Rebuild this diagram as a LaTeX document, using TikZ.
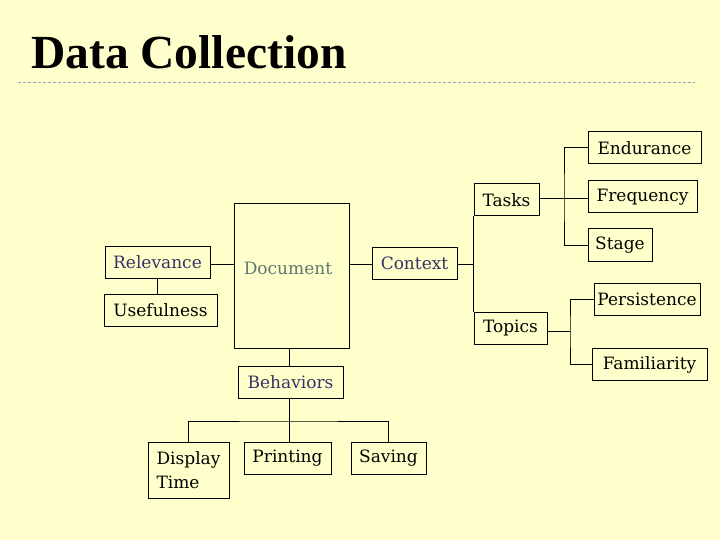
\documentclass[tikz,border=0pt]{standalone}
\usepackage{fontspec}
\setmainfont{DejaVu Serif}
\newfontfamily\titlefont{Liberation Serif}
\usepackage{tikz}
\usetikzlibrary{positioning,calc}
\usepackage{xcolor}
\definecolor{dcPaper}{HTML}{FFFFCC}
\definecolor{dcNavy}{HTML}{333366}
\definecolor{dcDoc}{HTML}{5F7777}
\definecolor{dcRule}{HTML}{98A2C4}
\tikzset{
    itembox/.style={draw, line width=1pt, minimum height=32pt, inner sep=3pt, font=\fontsize{17}{24}\selectfont},
    keybox/.style={itembox, text=dcNavy},
    link/.style={line width=1pt}
}

\begin{document}
\begin{tikzpicture}[x=1pt, y=-1pt]

    % Background
    \fill[dcPaper] (0,0) rectangle (720,540);
    \useasboundingbox (0,0) rectangle (720,540);

    % Title
    \node[anchor=base west, inner sep=0pt, font=\titlefont\bfseries\fontsize{47.5}{52}\selectfont] (title) at (31,69) {Data Collection};
    \coordinate (ruleL) at (18,83);
    \coordinate (ruleR) at (695,83);
    \draw[dcRule, line width=1pt, dash pattern=on 3pt off 2pt] (ruleL) -- (ruleR);

    % Nodes
    \node[draw, line width=1pt, minimum width=115pt, minimum height=144pt] (doc) at (291.5,276) {};
    \node[font=\fontsize{17}{24}\selectfont, text=dcDoc] (doclabel) at (288,268) {Document};
    \node[keybox, minimum width=105pt] (rel) at (157.5,262.5) {Relevance};
    \node[itembox, minimum width=113pt] (use) at (160.5,310) {Usefulness};
    \node[keybox, minimum width=85pt] (ctx) at (414.5,263) {Context};
    \node[keybox, minimum width=105pt] (beh) at (290.5,382) {Behaviors};

    \node[itembox, minimum width=65pt] (tasks) at (506.5,200) {Tasks};
    \node[itembox, minimum width=73pt] (topics) at (510.5,328) {Topics};
    \node[itembox, minimum width=113pt] (endur) at (644.5,148) {Endurance};
    \node[itembox, minimum width=109pt] (freq) at (642.5,197) {Frequency};
    \node[itembox, minimum width=64pt] (stage) at (620,245) {Stage};
    \node[itembox, minimum width=106pt] (pers) at (647,299) {Persistence};
    \node[itembox, minimum width=115pt] (fam) at (649.5,364.5) {Familiarity};

    \node[itembox, minimum width=81pt, minimum height=56pt, align=left] (disp) at (188.5,470) {Display\\Time};
    \node[itembox, minimum width=87pt] (print) at (287.5,458) {Printing};
    \node[itembox, minimum width=75pt] (save) at (388.5,458) {Saving};

    % Bus points
    \coordinate (tbus) at (564,199);
    \coordinate (pbus) at (570,331);
    \coordinate (bbus) at (289,421);

    % Lines
    \draw[link] (rel.east |- 0,264) -- (doc.west |- 0,264);
    \draw[link] (rel.south) -- (rel.south |- use.north);
    \draw[link] (doc.east |- 0,264) -- (ctx.west |- 0,264);
    \draw[link] (ctx.east |- 0,264) -- (tasks.south west |- 0,264);
    \draw[link] (tasks.south west) -- (topics.north west);
    \draw[link] (beh.north -| bbus) -- (doc.south -| bbus);

    \draw[link] (tasks.east |- tbus) -- (tbus);
    \draw[link] (tbus) -- (freq.west |- tbus);
    \draw[link] (endur.west) -| (tbus) |- (stage.west);

    \draw[link] (topics.east |- pbus) -- (pbus);
    \draw[link] (pers.west) -| (pbus) |- (fam.west);

    \draw[link] (beh.south -| bbus) -- (bbus);
    \draw[link] (disp.north) |- (bbus) -| (save.north);
    \draw[link] (print.north -| bbus) -- (bbus);

\end{tikzpicture}
\end{document}
